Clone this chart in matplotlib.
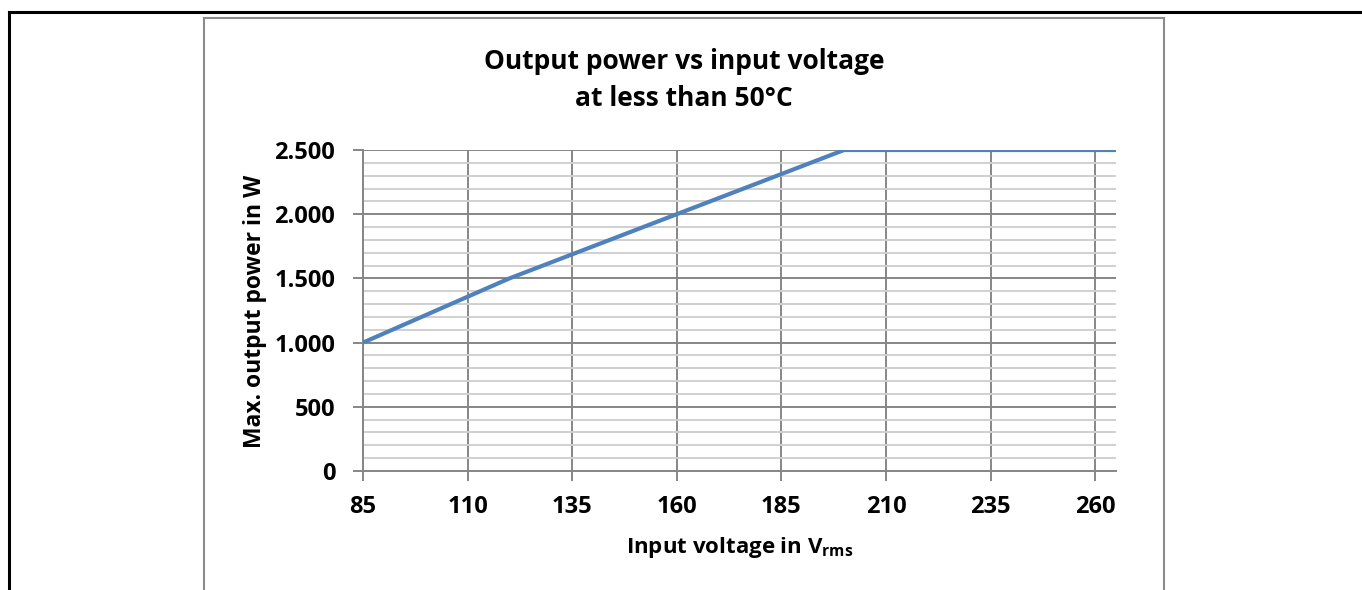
import matplotlib
matplotlib.use("Agg")
import matplotlib.pyplot as plt
from matplotlib.lines import Line2D
from matplotlib.patches import Rectangle
from matplotlib.ticker import FuncFormatter, MultipleLocator

# data
voltage = [85, 120, 200, 265]
power = [1000, 1500, 2500, 2500]
x_ticks = [85, 110, 135, 160, 185, 210, 235, 260]
y_ticks = [0, 500, 1000, 1500, 2000, 2500]

title = "Output power vs input voltage\nat less than 50°C"
x_label = "Input voltage in V$_{\\mathregular{rms}}$"
y_label = "Max. output power in W"

plt.rcParams["font.family"] = ["Open Sans", "DejaVu Sans"]
plt.rcParams["font.weight"] = "bold"
plt.rcParams["mathtext.default"] = "regular"

W, H = 1362, 590
fig = plt.figure(figsize=(W / 100, H / 100), dpi=100)

# outer frame (black) and chart area border (gray)
fig.add_artist(Line2D([9 / W, 1.0], [1 - 12 / H, 1 - 12 / H], color="black", lw=2.2))
fig.add_artist(Line2D([9 / W, 9 / W], [0, 1 - 12 / H], color="black", lw=2.2))
fig.add_artist(Rectangle((204 / W, -0.05), (1164 - 204) / W, 1.05 - 18 / H,
                         fill=False, edgecolor="#8c8c8c", lw=1.5))

ax = fig.add_axes([363 / W, 1 - 471 / H, (1116 - 363) / W, (471 - 150) / H])

ax.plot(voltage, power, color="#4F81BD", lw=3.0, solid_capstyle="butt", zorder=3)

ax.set_xlim(85, 265)
ax.set_ylim(0, 2500)
ax.set_xticks(x_ticks)
ax.set_yticks(y_ticks)
ax.yaxis.set_minor_locator(MultipleLocator(100))
ax.yaxis.set_major_formatter(FuncFormatter(lambda v, p: f"{int(v):,}".replace(",", ".")))

ax.grid(True, which="major", axis="both", color="#868686", lw=1.4)
ax.grid(True, which="minor", axis="y", color="#d0d0d0", lw=1.4)
ax.set_axisbelow(True)

for s in ("top", "right"):
    ax.spines[s].set_visible(False)
for s in ("left", "bottom"):
    ax.spines[s].set_color("#868686")
    ax.spines[s].set_linewidth(1.4)

ax.tick_params(axis="both", which="major", length=7, width=1.4, color="#868686",
               labelsize=17)
ax.tick_params(axis="y", which="major", pad=13)
ax.tick_params(axis="y", which="minor", length=0)
ax.tick_params(axis="x", pad=10)
for lbl in ax.get_xticklabels() + ax.get_yticklabels():
    lbl.set_fontweight("bold")

fig.text(684 / W, 1 - 80 / H, title, ha="center", va="center", fontsize=19,
         fontweight="bold", linespacing=1.5)
fig.text(739.5 / W, 1 - 547 / H, x_label, ha="center", va="center", fontsize=16,
         fontweight="bold")
fig.text(255 / W, 1 - 311 / H, y_label, ha="center", va="center", fontsize=16.5,
         fontweight="bold", rotation=90)

fig.savefig("out.png", dpi=100)
